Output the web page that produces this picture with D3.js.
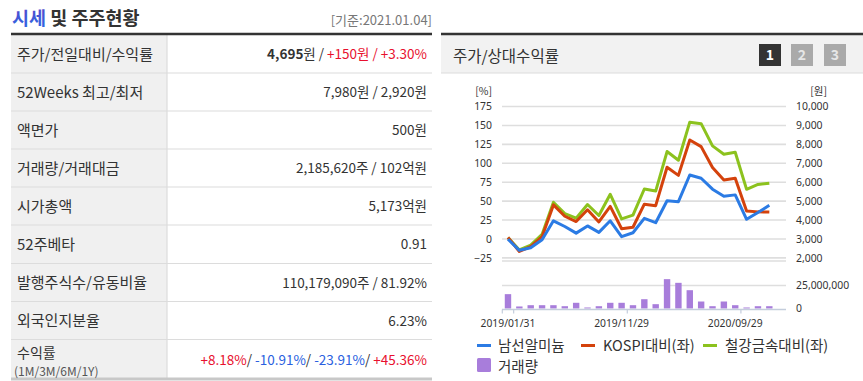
<!DOCTYPE html>
<html><head><meta charset="utf-8">
<script src="https://cdn.jsdelivr.net/npm/d3@7"></script>
<style>
html,body{margin:0;padding:0;background:#fff;}
svg{display:block;font-family:"Noto Sans CJK KR","Noto Sans",sans-serif;}
</style></head>
<body><svg id="c" width="863" height="381"></svg>
<script>
// ---------- data ----------
const dates = ["2019/01/31","2019/02/28","2019/03/29","2019/04/30","2019/05/31","2019/06/28","2019/07/31","2019/08/30","2019/09/30","2019/10/31","2019/11/29","2019/12/30","2020/01/31","2020/02/28","2020/03/31","2020/04/29","2020/05/29","2020/06/30","2020/07/31","2020/08/31","2020/09/29","2020/10/30","2020/11/30","2020/12/30"];
const tickLabels = ["2019/01/31","2019/11/29","2020/09/29"];
const priceWon = [2985,2400,2540,2960,3960,3660,3310,3690,3350,3960,3120,3330,4090,3860,5020,4970,6380,6210,5630,5260,5330,4040,4400,4780];
const kospiRel = [2,-16.5,-10,3,45,30,23,38.5,22.5,43,13.5,15.5,46,44,94.7,84,130.8,122,94.5,78,80.3,37,35.8,35.5];
const steelRel = [2,-14.5,-8,6,48.5,33.5,27.5,45.5,31,59,26.5,31.5,66,63.3,115.5,104,154.3,152.3,123,112,114.5,65.6,72,73.7];
const volume = [15600000,2200000,3600000,3600000,3600000,2500000,6200000,1100000,2500000,6200000,6200000,3600000,10100000,4700000,31900000,27900000,19900000,7600000,2500000,7600000,3600000,1100000,2500000,2500000];
const leftTicks = [-25,0,25,50,75,100,125,150,175];
const rightTicks = [2000,3000,4000,5000,6000,7000,8000,9000,10000];
const volTicks = [0,25000000];
const seriesNames = ["남선알미늄","KOSPI대비(좌)","철강금속대비(좌)","거래량"];

const tableLabels = ["주가/전일대비/수익률","52Weeks 최고/최저","액면가","거래량/거래대금","시가총액","52주베타","발행주식수/유동비율","외국인지분율","수익률"];
const tableValues = [
  [["4,695","#333",700],["원 / ","#333",400],["+150원 / +3.30%","#e8102e",400]],
  [["7,980원 / 2,920원","#333",400]],
  [["500원","#333",400]],
  [["2,185,620주 / 102억원","#333",400]],
  [["5,173억원","#333",400]],
  [["0.91","#333",400]],
  [["110,179,090주 / 81.92%","#333",400]],
  [["6.23%","#333",400]],
  [["+8.18%","#e8102e",400],["/ ","#333",400],["-10.91%","#2a5fe0",400],["/ ","#333",400],["-23.91%","#2a5fe0",400],["/ ","#333",400],["+45.36%","#e8102e",400]]
];

const svg = d3.select("#c");
const defs = svg.append("defs");
const grad = defs.append("linearGradient").attr("id","tg").attr("x1","0").attr("x2","0").attr("y1","0").attr("y2","1");
grad.append("stop").attr("offset","0").attr("stop-color","#5a44c8");
grad.append("stop").attr("offset","1").attr("stop-color","#2a6ae6");

// ---------- left table ----------
const title = svg.append("text").attr("x",12).attr("y",25).attr("font-size",18.5).attr("font-weight",700);
title.append("tspan").attr("fill","url(#tg)").text("시세");
title.append("tspan").attr("fill","#333").text(" 및 주주현황");
svg.append("text").attr("x",432).attr("y",25).attr("text-anchor","end").attr("font-size",13).attr("fill","#777").text("[기준:2021.01.04]");

const rowB = [35,73,111,149,187,225,263.5,301.5,339.5,378];
svg.append("rect").attr("x",11).attr("y",35).attr("width",156).attr("height",343).attr("fill","#f0f0f0");
svg.append("line").attr("x1",167).attr("x2",167).attr("y1",35).attr("y2",378).attr("stroke","#dcdcdc").attr("stroke-width",1.2);
rowB.slice(1,-1).forEach(y=>svg.append("line").attr("x1",11).attr("x2",432).attr("y1",y).attr("y2",y).attr("stroke","#dcdcdc").attr("stroke-width",1.2));
svg.append("line").attr("x1",11).attr("x2",432).attr("y1",379).attr("y2",379).attr("stroke","#c8c8c8").attr("stroke-width",3);
svg.append("line").attr("x1",11).attr("x2",432).attr("y1",34).attr("y2",34).attr("stroke","#333").attr("stroke-width",2.5);

tableLabels.forEach((lab,i)=>{
  const cy = (rowB[i]+rowB[i+1])/2;
  if(i===8){
    svg.append("text").attr("x",17).attr("y",357.5).attr("font-size",14).attr("fill","#333").text(lab);
    svg.append("text").attr("x",14).attr("y",376).attr("font-size",12).attr("fill","#555").text("(1M/3M/6M/1Y)");
  } else {
    svg.append("text").attr("x",17).attr("y",cy+5.5).attr("font-size",15).attr("fill","#333").text(lab);
  }
  const t = svg.append("text").attr("x",427).attr("y",cy+(i===8?6:5)).attr("text-anchor","end").attr("font-size",13.5);
  tableValues[i].forEach(([s,c,w])=>t.append("tspan").attr("fill",c).attr("font-weight",w).text(s));
});

// ---------- right panel header ----------
svg.append("rect").attr("x",441).attr("y",35).attr("width",422).attr("height",38).attr("fill","#f2f2f2");
svg.append("line").attr("x1",441).attr("x2",863).attr("y1",73).attr("y2",73).attr("stroke","#dcdcdc").attr("stroke-width",1.2);
svg.append("line").attr("x1",441).attr("x2",863).attr("y1",34).attr("y2",34).attr("stroke","#333").attr("stroke-width",2.5);
svg.append("text").attr("x",453).attr("y",61.5).attr("font-size",15.5).attr("fill","#333").text("주가/상대수익률");
[["1",759,"#333"],["2",791,"#aaa"],["3",824,"#aaa"]].forEach(([n,x,c])=>{
  svg.append("rect").attr("x",x).attr("y",44).attr("width",22).attr("height",22).attr("fill",c);
  svg.append("text").attr("x",x+11).attr("y",60).attr("text-anchor","middle").attr("font-size",14).attr("font-weight",700).attr("fill",n==="1"?"#fff":"#e6e6e6").text(n);
});

// ---------- chart ----------
const x = d3.scaleBand().domain(dates).range([502.3,775]).padding(0);
const cx = d => x(d)+x.bandwidth()/2;
const yL = d3.scaleLinear().domain([-25,175]).range([257.9,106.5]);
const yR = d3.scaleLinear().domain([2000,10000]).range([257.9,106.5]);
const yV = d3.scaleLinear().domain([0,25000000]).range([308.5,285.5]);
const gx1 = 502, gx2 = 786;

const grid = svg.append("g");
leftTicks.forEach(t=>grid.append("line").attr("x1",gx1).attr("x2",gx2).attr("y1",yL(t)).attr("y2",yL(t)).attr("stroke","#dedede").attr("stroke-width",1.6));
grid.append("line").attr("x1",gx1).attr("x2",gx2).attr("y1",261).attr("y2",261).attr("stroke","#dedede").attr("stroke-width",1.6);
grid.append("line").attr("x1",gx1).attr("x2",gx2).attr("y1",yV(25000000)).attr("y2",yV(25000000)).attr("stroke","#dedede").attr("stroke-width",1.6);

const axL = svg.append("g").attr("transform","translate(492,0)")
  .call(d3.axisLeft(yL).tickValues(leftTicks).tickSize(0).tickPadding(0));
const axR = svg.append("g").attr("transform","translate(796,0)")
  .call(d3.axisRight(yR).tickValues(rightTicks).tickSize(0).tickPadding(0).tickFormat(d3.format(",")));
const axV = svg.append("g").attr("transform","translate(796,0)")
  .call(d3.axisRight(yV).tickValues(volTicks).tickSize(0).tickPadding(0).tickFormat(d3.format(",")));
[axL,axR,axV].forEach(a=>{a.select(".domain").remove();a.selectAll("text").attr("font-size",10.4).attr("fill","#333").attr("font-family","'Noto Sans',sans-serif");});
svg.append("text").attr("x",492).attr("y",95).attr("text-anchor","end").attr("font-size",10.5).attr("fill","#333").text("[%]");
svg.append("text").attr("x",827).attr("y",95).attr("text-anchor","end").attr("font-size",10.5).attr("fill","#333").text("[원]");

// bars
svg.append("g").selectAll("rect").data(volume).join("rect")
  .attr("x",(v,i)=>cx(dates[i])-3.2).attr("width",6.4)
  .attr("y",v=>yV(v)).attr("height",v=>yV(0)-yV(v)).attr("fill","#a87ddb");

// x axis
const xa = svg.append("g").attr("transform","translate(0,309.5)");
xa.append("line").attr("x1",gx1).attr("x2",gx2).attr("stroke","#c4cddc").attr("stroke-width",1.5);
[x.range()[0]].concat(tickLabels.map(d=>x(d)+x.bandwidth())).forEach(t=>
  xa.append("line").attr("x1",t).attr("x2",t).attr("y1",0).attr("y2",4).attr("stroke","#c4cddc").attr("stroke-width",1.2));
tickLabels.forEach(d=>xa.append("text").attr("x",cx(d)).attr("y",17).attr("text-anchor","middle").attr("font-size",10.3).attr("fill","#333").attr("font-family","'Noto Sans',sans-serif").text(d));

// lines
const colors = ["#2b7be4","#d4420c","#8cc21e"];
const mk = (scale)=>d3.line().x((v,i)=>cx(dates[i])).y(v=>scale(v));
svg.append("path").attr("d",mk(yL)(steelRel)).attr("fill","none").attr("stroke",colors[2]).attr("stroke-width",3).attr("stroke-linejoin","round");
svg.append("path").attr("d",mk(yL)(kospiRel)).attr("fill","none").attr("stroke",colors[1]).attr("stroke-width",3).attr("stroke-linejoin","round");
svg.append("path").attr("d",mk(yR)(priceWon)).attr("fill","none").attr("stroke",colors[0]).attr("stroke-width",3).attr("stroke-linejoin","round");

// legend
const lg = svg.append("g");
[[477,498],[581,603],[703,725]].forEach(([lx,tx],i)=>{
  lg.append("line").attr("x1",lx).attr("x2",lx+14).attr("y1",345.5).attr("y2",345.5).attr("stroke",colors[i]).attr("stroke-width",3);
  lg.append("text").attr("x",tx).attr("y",350.5).attr("font-size",14.5).attr("fill","#333").text(seriesNames[i]);
});
lg.append("rect").attr("x",477).attr("y",358).attr("width",14).attr("height",14).attr("rx",1.5).attr("fill","#a87ddb");
lg.append("text").attr("x",498).attr("y",371.5).attr("font-size",14.5).attr("fill","#333").text(seriesNames[3]);
</script></body></html>
